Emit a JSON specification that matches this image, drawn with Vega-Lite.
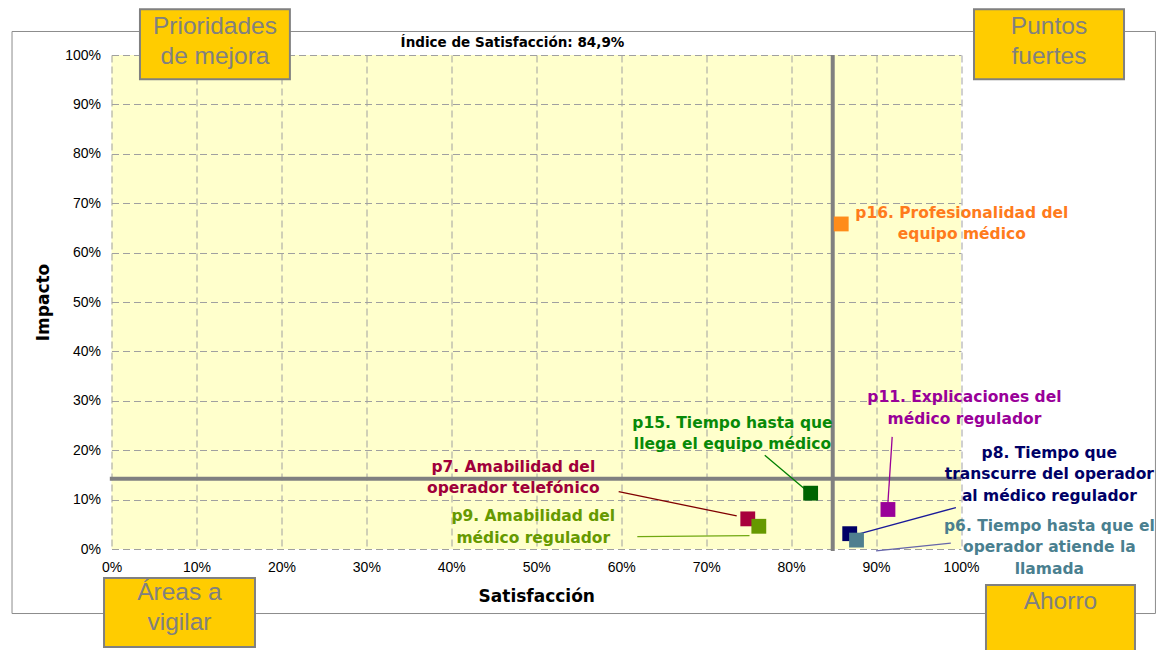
{
  "$schema": "https://vega.github.io/schema/vega-lite/v6.json",
  "width": 849.5,
  "height": 494,
  "autosize": {"type": "none"},
  "padding": {"left": 111.5, "top": 55, "right": 195, "bottom": 101},
  "background": "white",
  "view": {"fill": "#FFFFCC", "stroke": null},
  "config": {
    "font": "DejaVu Sans",
    "axis": {
      "grid": true, "gridColor": "#A0A0A0", "gridDash": [7, 4], "gridWidth": 1,
      "domain": false, "ticks": false, "labelFlush": false,
      "labelFont": "Liberation Sans", "labelFontSize": 14, "labelColor": "#000000", "labelPadding": 11,
      "titleFont": "DejaVu Sans", "titleFontSize": 17, "titleFontWeight": "bold", "titleColor": "#000000"
    },
    "axisX": {"titlePadding": 14},
    "axisY": {"titlePadding": 12}
  },
  "datasets": {
    "puntos": [
      {"id": "p16", "x": 0.859, "y": 0.658},
      {"id": "p15", "x": 0.823, "y": 0.113},
      {"id": "p7", "x": 0.749, "y": 0.061},
      {"id": "p9", "x": 0.762, "y": 0.046},
      {"id": "p11", "x": 0.914, "y": 0.080},
      {"id": "p8", "x": 0.869, "y": 0.031},
      {"id": "p6", "x": 0.877, "y": 0.018}
    ],
    "etiquetas": [
      {"id": "p16", "x": 1.001, "y": 0.681, "texto": "p16. Profesionalidad del\nequipo médico"},
      {"id": "p15", "x": 0.731, "y": 0.2557, "texto": "p15. Tiempo hasta que\nllega el equipo médico"},
      {"id": "p7", "x": 0.473, "y": 0.1666, "texto": "p7. Amabilidad del\noperador telefónico"},
      {"id": "p9", "x": 0.4965, "y": 0.0668, "texto": "p9. Amabilidad del\nmédico regulador"},
      {"id": "p11", "x": 1.004, "y": 0.3071, "texto": "p11. Explicaciones del\nmédico regulador"},
      {"id": "p8", "x": 1.104, "y": 0.1949, "texto": "p8. Tiempo que\ntranscurre del operador\nal médico regulador"},
      {"id": "p6", "x": 1.104, "y": 0.0472, "texto": "p6. Tiempo hasta que el\noperador atiende la\nllamada"}
    ],
    "guias": [
      {"id": "p15", "x": 0.769, "y": 0.190, "x2": 0.822, "y2": 0.113},
      {"id": "p7", "x": 0.597, "y": 0.116, "x2": 0.736, "y2": 0.067},
      {"id": "p9", "x": 0.619, "y": 0.025, "x2": 0.751, "y2": 0.027},
      {"id": "p11", "x": 0.919, "y": 0.227, "x2": 0.914, "y2": 0.094},
      {"id": "p8", "x": 0.879, "y": 0.030, "x2": 0.994, "y2": 0.084},
      {"id": "p6", "x": 0.900, "y": -0.004, "x2": 0.988, "y2": 0.012}
    ],
    "ejes": [
      {"x": 0.849, "y": -0.004, "x2": 0.849, "y2": 1.0},
      {"x": -0.002, "y": 0.142, "x2": 1.0, "y2": 0.142}
    ],
    "marco": [
      {"x": -0.1171, "x2": 1.2289, "y": 1.0476, "y2": -0.1306}
    ],
    "cuadrantes": [
      {"nombre": "Prioridades\nde mejora", "x": 0.0335, "x2": 0.210, "y": 1.0925, "y2": 0.951, "tx": 0.1218, "ty": 1.0573},
      {"nombre": "Puntos\nfuertes", "x": 1.0153, "x2": 1.1919, "y": 1.0925, "y2": 0.951, "tx": 1.1036, "ty": 1.0573},
      {"nombre": "Áreas a\nvigilar", "x": -0.0088, "x2": 0.1689, "y": -0.0587, "y2": -0.1984, "tx": 0.080, "ty": -0.0891},
      {"nombre": "Ahorro", "x": 1.0294, "x2": 1.2048, "y": -0.0729, "y2": -0.2146, "tx": 1.117, "ty": -0.1073}
    ],
    "titulo": [
      {"x": 0.472, "y": 1.025, "texto": "Índice de Satisfacción: 84,9%"}
    ]
  },
  "layer": [
    {
      "data": {"name": "marco"},
      "mark": {"type": "rect", "fillOpacity": 0, "stroke": "#8C8C8C", "strokeWidth": 1},
      "encoding": {
        "x": {"field": "x", "type": "quantitative", "scale": {"domain": [0, 1], "nice": false, "zero": false}, "axis": {"values": [0, 0.1, 0.2, 0.3, 0.4, 0.5, 0.6, 0.7, 0.8, 0.9, 1], "format": ".0%", "title": "Satisfacción"}},
        "x2": {"field": "x2"},
        "y": {"field": "y", "type": "quantitative", "scale": {"domain": [0, 1], "nice": false, "zero": false}, "axis": {"values": [0, 0.1, 0.2, 0.3, 0.4, 0.5, 0.6, 0.7, 0.8, 0.9, 1], "format": ".0%", "title": "Impacto"}},
        "y2": {"field": "y2"}
      }
    },
    {
      "data": {"name": "ejes"},
      "mark": {"type": "rule", "color": "#808080", "strokeWidth": 4},
      "encoding": {
        "x": {"field": "x", "type": "quantitative"},
        "x2": {"field": "x2"},
        "y": {"field": "y", "type": "quantitative"},
        "y2": {"field": "y2"}
      }
    },
    {
      "data": {"name": "guias"},
      "mark": {"type": "rule", "strokeWidth": 1.3},
      "encoding": {
        "x": {"field": "x", "type": "quantitative"},
        "x2": {"field": "x2"},
        "y": {"field": "y", "type": "quantitative"},
        "y2": {"field": "y2"},
        "stroke": {"field": "id", "type": "nominal", "legend": null,
          "scale": {"domain": ["p15", "p7", "p9", "p11", "p8", "p6"], "range": ["#008000", "#800000", "#70A810", "#990099", "#1A1A99", "#6666AA"]}}
      }
    },
    {
      "data": {"name": "puntos"},
      "mark": {"type": "square", "size": 220, "filled": true, "opacity": 1},
      "encoding": {
        "x": {"field": "x", "type": "quantitative"},
        "y": {"field": "y", "type": "quantitative"},
        "fill": {"field": "id", "type": "nominal", "legend": null,
          "scale": {"domain": ["p16", "p15", "p7", "p9", "p11", "p8", "p6"], "range": ["#FF8C1A", "#006400", "#A8003C", "#669900", "#990099", "#000066", "#4F7F8F"]}}
      }
    },
    {
      "data": {"name": "etiquetas"},
      "mark": {"type": "text", "align": "center", "baseline": "middle", "lineBreak": "\n", "lineHeight": 21.5, "font": "DejaVu Sans", "fontSize": 15.5, "fontWeight": "bold"},
      "encoding": {
        "x": {"field": "x", "type": "quantitative"},
        "y": {"field": "y", "type": "quantitative"},
        "text": {"field": "texto", "type": "nominal"},
        "color": {"field": "id", "type": "nominal", "legend": null,
          "scale": {"domain": ["p16", "p15", "p7", "p9", "p11", "p8", "p6"], "range": ["#FF7B1C", "#088A08", "#A0003A", "#669900", "#990099", "#000066", "#4A7F8F"]}}
      }
    },
    {
      "data": {"name": "titulo"},
      "mark": {"type": "text", "align": "center", "baseline": "middle", "font": "DejaVu Sans", "fontSize": 13.5, "fontWeight": "bold", "color": "#000000"},
      "encoding": {
        "x": {"field": "x", "type": "quantitative"},
        "y": {"field": "y", "type": "quantitative"},
        "text": {"field": "texto", "type": "nominal"}
      }
    },
    {
      "data": {"name": "cuadrantes"},
      "mark": {"type": "rect", "fill": "#FFCC00", "stroke": "#808080", "strokeWidth": 2},
      "encoding": {
        "x": {"field": "x", "type": "quantitative"},
        "x2": {"field": "x2"},
        "y": {"field": "y", "type": "quantitative"},
        "y2": {"field": "y2"}
      }
    },
    {
      "data": {"name": "cuadrantes"},
      "mark": {"type": "text", "align": "center", "baseline": "middle", "lineBreak": "\n", "lineHeight": 30, "font": "Liberation Sans", "fontSize": 24.5, "color": "#808080"},
      "encoding": {
        "x": {"field": "tx", "type": "quantitative"},
        "y": {"field": "ty", "type": "quantitative"},
        "text": {"field": "nombre", "type": "nominal"}
      }
    }
  ]
}
